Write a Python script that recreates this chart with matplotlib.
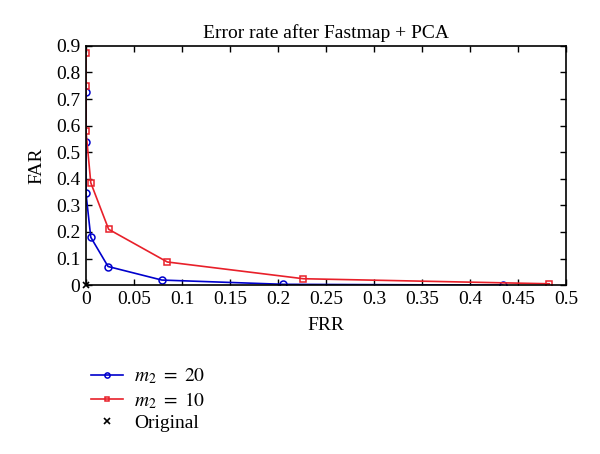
import matplotlib
matplotlib.use("Agg")
import matplotlib.pyplot as plt

plt.rcParams['font.family'] = ['Liberation Serif', 'DejaVu Serif']
plt.rcParams['mathtext.fontset'] = 'stix'

# m2 = 20
frr_20 = [0.0, 0.0, 0.0, 0.005, 0.023, 0.079, 0.2055, 0.434]
far_20 = [0.725, 0.54, 0.345, 0.18, 0.07, 0.019, 0.003, 0.0]
# m2 = 10
frr_10 = [0.0, 0.0, 0.0, 0.005, 0.0236, 0.0847, 0.2264, 0.4826]
far_10 = [0.875, 0.75, 0.58, 0.385, 0.21, 0.087, 0.024, 0.005]
# original
frr_orig = [0.0]
far_orig = [0.0]

xticks = [0, 0.05, 0.1, 0.15, 0.2, 0.25, 0.3, 0.35, 0.4, 0.45, 0.5]
yticks = [0, 0.1, 0.2, 0.3, 0.4, 0.5, 0.6, 0.7, 0.8, 0.9]

fig = plt.figure(figsize=(6, 4.54), dpi=100)
ax = fig.add_axes([0.1433, 0.372, 0.80, 0.527])

l1, = ax.plot(frr_20, far_20, color='#0000cc', lw=1.2, marker='o', ms=5,
              mfc='none', mec='#0000cc', mew=1.1, label=r'$m_2\ =\ 20$')
l2, = ax.plot(frr_10, far_10, color='#e8202a', lw=1.2, marker='s', ms=4.5,
              mfc='none', mec='#e8202a', mew=1.1, label=r'$m_2\ =\ 10$')
l3, = ax.plot(frr_orig, far_orig, ls='none', marker='x', ms=5, color='black',
              mew=1.2, label='Original', clip_on=False, zorder=5)

ax.set_xlim(0, 0.5)
ax.set_ylim(0, 0.9)
ax.set_xticks(xticks)
ax.set_xticklabels(['0', '0.05', '0.1', '0.15', '0.2', '0.25', '0.3', '0.35',
                    '0.4', '0.45', '0.5'])
ax.set_yticks(yticks)
ax.set_yticklabels(['0', '0.1', '0.2', '0.3', '0.4', '0.5', '0.6', '0.7',
                    '0.8', '0.9'])
ax.tick_params(direction='in', top=True, right=True, length=4, width=1,
               labelsize=14, pad=4)
for s in ax.spines.values():
    s.set_linewidth(1.2)

ax.set_title('Error rate after Fastmap + PCA', fontsize=14, pad=6)
ax.set_xlabel('FRR', fontsize=14, labelpad=7)
ax.set_ylabel('FAR', fontsize=14, labelpad=8)

fig.legend(handles=[l1, l2, l3], loc='upper left',
           bbox_to_anchor=(0.138, 0.21), frameon=False, fontsize=14,
           handlelength=1.65, handletextpad=0.6, labelspacing=0.2,
           borderaxespad=0, markerscale=0.75)

fig.savefig('out.png', dpi=100)
